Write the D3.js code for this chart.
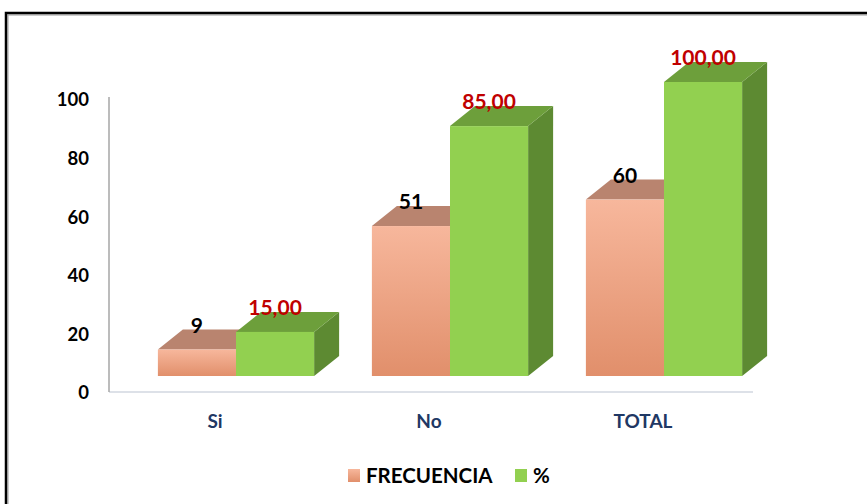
<!DOCTYPE html>
<html>
  <head>
    <meta charset="utf-8">
    <title>Frecuencia y porcentaje</title>
    <script src="https://cdn.jsdelivr.net/npm/d3@7/dist/d3.min.js"></script>
    <style>
      body { margin: 0; background: #fff; }
      text { font-family: Lato, 'Open Sans', sans-serif; font-weight: bold; }
    </style>
  </head>
  <body>
    <div id="chart"></div>

    <script>
      // Data
      const categories = ['Si', 'No', 'TOTAL'];
      const frecuencia = [9, 51, 60];
      const porcentaje = [15, 85, 100];
      const frecuenciaLabels = ['9', '51', '60'];
      const porcentajeLabels = ['15,00', '85,00', '100,00'];
      const yTicks = [0, 20, 40, 60, 80, 100];
      const seriesNames = ['FRECUENCIA', '%'];

      const width = 867, height = 504;
      const depth = { dx: 25, dy: -20 };

      const svg = d3.select('#chart')
        .append('svg')
        .attr('width', width)
        .attr('height', height);

      const defs = svg.append('defs');
      const grad = defs.append('linearGradient')
        .attr('id', 'orangeGrad')
        .attr('x1', 0).attr('y1', 0).attr('x2', 0).attr('y2', 1);
      grad.append('stop').attr('offset', '0%').attr('stop-color', '#f7b79c');
      grad.append('stop').attr('offset', '100%').attr('stop-color', '#e18f6b');

      // Outer frame (with a faint inner shadow line)
      svg.append('rect')
        .attr('x', 8).attr('y', 15)
        .attr('width', 900).attr('height', 600)
        .attr('fill', 'none')
        .attr('stroke', '#9a9a9a')
        .attr('stroke-width', 1);
      svg.append('rect')
        .attr('x', 6).attr('y', 13)
        .attr('width', 900).attr('height', 600)
        .attr('fill', 'none')
        .attr('stroke', '#000')
        .attr('stroke-width', 2.5);

      // Scales: bars use the front face, axis labels sit on the back wall
      const x = d3.scaleBand()
        .domain(categories)
        .range([129, 771])
        .paddingInner(0.27)
        .paddingOuter(0.135);

      const xSeries = d3.scaleBand()
        .domain(seriesNames)
        .range([0, x.bandwidth()]);

      const yBar = d3.scaleLinear().domain([0, 100]).range([376, 82]);
      const yAxis = d3.scaleLinear().domain([0, 100]).range([393, 100]);

      // Floor and vertical axis line
      svg.append('line')
        .attr('x1', 109).attr('x2', 753)
        .attr('y1', 392).attr('y2', 392)
        .attr('stroke', '#dde1e8').attr('stroke-width', 2);
      svg.append('line')
        .attr('x1', 109).attr('x2', 109)
        .attr('y1', 97).attr('y2', 392)
        .attr('stroke', '#a6a6a6').attr('stroke-width', 1.5);

      const axisG = svg.append('g')
        .attr('transform', 'translate(109,0)')
        .call(d3.axisLeft(yAxis).tickValues(yTicks).tickSize(0).tickPadding(20));
      axisG.select('.domain').remove();
      axisG.selectAll('text')
        .attr('font-size', 18.5)
        .attr('fill', '#000')
        .style('font-family', 'Lato, sans-serif')
        .style('font-weight', 'bold');

      // Draw one 3D box
      function box(g, x0, w, v, front, top, side) {
        const yTop = yBar(v), yBot = yBar(0);
        const dx = depth.dx, dy = depth.dy;
        if (side) {
          g.append('path')
            .attr('d', `M${x0 + w},${yTop} L${x0 + w + dx},${yTop + dy} L${x0 + w + dx},${yBot + dy} L${x0 + w},${yBot} Z`)
            .attr('fill', side);
        }
        g.append('path')
          .attr('d', `M${x0},${yTop} L${x0 + dx},${yTop + dy} L${x0 + w + dx},${yTop + dy} L${x0 + w},${yTop} Z`)
          .attr('fill', top);
        g.append('rect')
          .attr('x', x0).attr('y', yTop)
          .attr('width', w).attr('height', yBot - yTop)
          .attr('fill', front);
      }

      const bars = svg.append('g');
      categories.forEach((c, i) => {
        const g = bars.append('g');
        const xo = x(c) + xSeries('FRECUENCIA');
        const xp = x(c) + xSeries('%');
        const w = xSeries.bandwidth();
        box(g, xo, w, frecuencia[i], 'url(#orangeGrad)', '#b9846f', '#c9876a');
        box(g, xp, w, porcentaje[i], '#92d050', '#6d9f3b', '#5d8a32');

        g.append('text')
          .attr('x', xo + w / 2)
          .attr('y', yBar(frecuencia[i]) - 17)
          .attr('text-anchor', 'middle')
          .attr('font-size', 21)
          .attr('fill', '#000')
          .text(frecuenciaLabels[i]);
        g.append('text')
          .attr('x', xp + w / 2)
          .attr('y', yBar(porcentaje[i]) - 17)
          .attr('text-anchor', 'middle')
          .attr('font-size', 21)
          .attr('fill', '#c00000')
          .text(porcentajeLabels[i]);
      });

      // Category labels
      svg.append('g')
        .selectAll('text')
        .data(categories)
        .enter()
        .append('text')
        .attr('x', d => x(d) + x.bandwidth() / 2 - 21)
        .attr('y', 428)
        .attr('text-anchor', 'middle')
        .attr('font-size', 19)
        .attr('fill', '#1f3864')
        .text(d => d);

      // Legend
      const legendColors = ['url(#orangeGrad)', '#92d050'];
      const legendX = [348, 515];
      const legend = svg.append('g');
      seriesNames.forEach((name, i) => {
        legend.append('rect')
          .attr('x', legendX[i]).attr('y', 469)
          .attr('width', 12).attr('height', 13)
          .attr('fill', legendColors[i]);
        legend.append('text')
          .attr('x', legendX[i] + 18)
          .attr('y', 483)
          .attr('font-size', 20.5)
          .attr('fill', '#000')
          .text(name);
      });
    </script>
  </body>
</html>
